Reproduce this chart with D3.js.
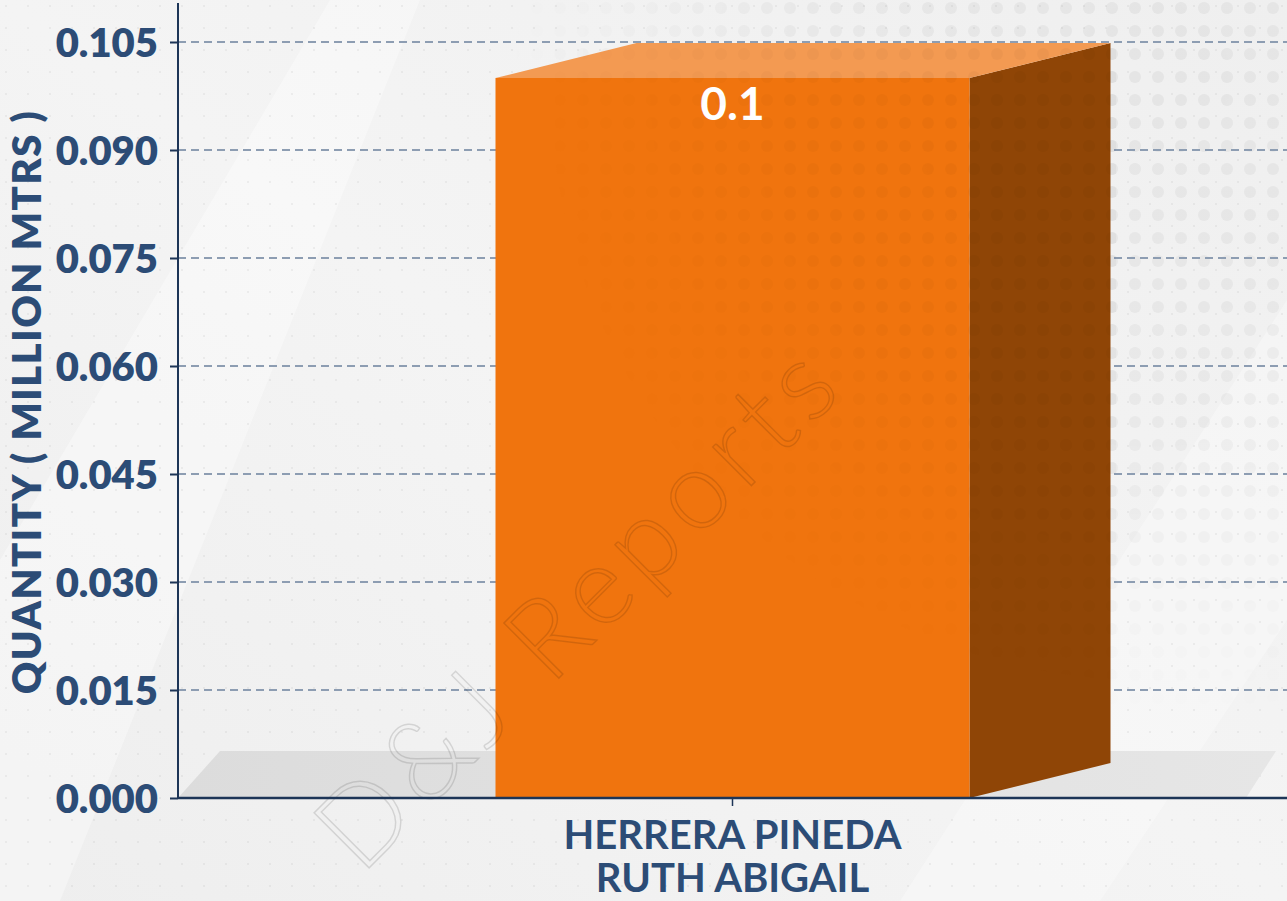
<!DOCTYPE html>
<html lang="es">
  <head>
    <meta charset="UTF-8">
    <title>Quantity chart</title>
    <style>
      html,body{
        margin: 0;
        padding: 0;
        background-color: #f2f2f2;
        overflow: hidden;
      }
      text{ font-family: Lato, "Open Sans", sans-serif; }
    </style>
  </head>
  <body>
    <div id="chart"></div>
    <script src="https://d3js.org/d3.v7.min.js"></script>
    <script>
      // datos
      var categorias = [["HERRERA PINEDA", "RUTH ABIGAIL"]];
      var valores = [0.1];
      var etiquetas = ["0.1"];
      var ticksY = [0, 0.015, 0.03, 0.045, 0.06, 0.075, 0.09, 0.105];

      var ancho = 1287, alto = 901;
      var m = { left: 178, right: 0, top: 42, bottom: 103 };
      var base = alto - m.bottom; // 798
      var azul = "#2c4c76";

      var svg = d3.select("#chart").append("svg")
        .attr("width", ancho).attr("height", alto);

      var defs = svg.append("defs");
      var bg = defs.append("linearGradient").attr("id", "bg")
        .attr("x1", 0).attr("y1", 1).attr("x2", 1).attr("y2", 0);
      bg.append("stop").attr("offset", 0).attr("stop-color", "#eeeeee");
      bg.append("stop").attr("offset", 0.5).attr("stop-color", "#f4f4f4");
      bg.append("stop").attr("offset", 1).attr("stop-color", "#efefef");

      var pat = defs.append("pattern").attr("id", "dots")
        .attr("width", 23).attr("height", 23).attr("patternUnits", "userSpaceOnUse");
      pat.append("circle").attr("cx", 8).attr("cy", 8).attr("r", 6).attr("fill", "rgba(0,0,0,0.045)");
      var pat2 = defs.append("pattern").attr("id", "dotsSm")
        .attr("width", 22).attr("height", 22).attr("patternUnits", "userSpaceOnUse");
      pat2.append("circle").attr("cx", 6).attr("cy", 6).attr("r", 1).attr("fill", "rgba(0,0,0,0.06)");

      var fade = defs.append("radialGradient").attr("id", "fade")
        .attr("gradientUnits", "userSpaceOnUse")
        .attr("cx", 1150).attr("cy", 80).attr("r", 650);
      fade.append("stop").attr("offset", 0).attr("stop-color", "#fff").attr("stop-opacity", 1);
      fade.append("stop").attr("offset", 0.55).attr("stop-color", "#fff").attr("stop-opacity", 0.8);
      fade.append("stop").attr("offset", 1).attr("stop-color", "#fff").attr("stop-opacity", 0);
      var mask = defs.append("mask").attr("id", "dotMask");
      mask.append("rect").attr("x", 0).attr("y", 0).attr("width", ancho).attr("height", 750).attr("fill", "url(#fade)");

      var floorG = defs.append("linearGradient").attr("id", "floorG")
        .attr("x1", 0).attr("y1", 0).attr("x2", 1).attr("y2", 0);
      floorG.append("stop").attr("offset", 0).attr("stop-color", "#dcdcdc");
      floorG.append("stop").attr("offset", 1).attr("stop-color", "#e6e6e6");

      // fondo
      svg.append("rect").attr("width", ancho).attr("height", alto).attr("fill", "url(#bg)");
      svg.append("path").attr("d", "M0,560 L330,0 L420,0 L60,901 L0,901Z").attr("fill", "rgba(255,255,255,0.35)");
      svg.append("path").attr("d", "M1287,300 L900,901 L1100,901 L1287,620Z").attr("fill", "rgba(255,255,255,0.3)");
      svg.append("rect").attr("width", ancho).attr("height", alto).attr("fill", "url(#dotsSm)");
      svg.append("rect").attr("x", 0).attr("width", ancho).attr("height", 750)
        .attr("fill", "url(#dots)").attr("mask", "url(#dotMask)");

      var x = d3.scaleBand().domain(categorias.map(function(d){ return d.join(" "); }))
        .range([m.left, ancho - m.right]).paddingInner(0.2).paddingOuter(0.28);
      var y = d3.scaleLinear().domain([0, 0.105]).range([base, m.top]);

      // piso
      svg.append("path")
        .attr("d", "M178,798 L220,751 L1276,751 L1246,798Z")
        .attr("fill", "url(#floorG)");

      // grid
      svg.append("g").selectAll("line").data(ticksY.slice(1)).join("line")
        .attr("x1", m.left).attr("x2", ancho)
        .attr("y1", function(d){ return y(d); }).attr("y2", function(d){ return y(d); })
        .attr("stroke", "#8d9db2").attr("stroke-width", 2)
        .attr("stroke-dasharray", "8,5");

      // barras 3D
      var dx = 141, dy = 35;
      var barW = 474;
      var bars = svg.append("g").selectAll("g").data(valores).join("g");
      bars.each(function(v, i){
        var g = d3.select(this);
        var cx = x(categorias[i].join(" ")) + x.bandwidth() / 2;
        var x0 = cx - barW / 2, x1 = cx + barW / 2, yt = y(v);
        g.append("path")
          .attr("d", "M" + x1 + "," + base + " L" + x1 + "," + yt + " L" + (x1 + dx) + "," + (yt - dy) +
            " L" + (x1 + dx) + "," + (base - dy) + "Z")
          .attr("fill", "#8f4506");
        g.append("path")
          .attr("d", "M" + x0 + "," + yt + " L" + (x0 + dx) + "," + (yt - dy) + " L" + (x1 + dx) + "," + (yt - dy) +
            " L" + x1 + "," + yt + "Z")
          .attr("fill", "#f39a52");
        g.append("rect").attr("x", x0).attr("y", yt).attr("width", barW).attr("height", base - yt)
          .attr("fill", "#f0740e");
        g.append("text").attr("x", cx).attr("y", yt + 42)
          .attr("text-anchor", "middle").attr("fill", "#fff")
          .attr("font-size", 46).attr("font-weight", 700)
          .text(etiquetas[i]);
      });
      svg.append("rect").attr("x", 496).attr("y", 40).attr("width", 620).attr("height", 760)
        .attr("fill", "url(#dots)").attr("mask", "url(#dotMask)").attr("opacity", 0.7);

      // marca de agua
      svg.append("text")
        .attr("transform", "translate(605,632) rotate(-45)")
        .attr("text-anchor", "middle")
        .attr("font-size", 110).attr("font-weight", 300)
        .attr("fill", "none").attr("stroke", "rgba(0,0,0,0.12)").attr("stroke-width", 1.5)
        .attr("letter-spacing", 8)
        .text("D&J Reports");

      // eje Y
      var ejeY = svg.append("g").attr("transform", "translate(" + m.left + ",0)")
        .call(d3.axisLeft(y).tickValues(ticksY).tickFormat(d3.format(".3f")).tickSize(8).tickPadding(12));
      ejeY.select(".domain").remove();
      ejeY.selectAll(".tick line").attr("stroke", "#1d3557").attr("stroke-width", 2);
      ejeY.selectAll(".tick text").attr("fill", azul).attr("font-size", 40).attr("font-weight", 800)
        .attr("font-family", "Lato, sans-serif").attr("dy", "0.36em");
      svg.append("line").attr("x1", m.left).attr("x2", m.left).attr("y1", 3).attr("y2", base)
        .attr("stroke", "#1d3557").attr("stroke-width", 2);

      // eje X
      var ejeX = svg.append("g").attr("transform", "translate(0," + base + ")")
        .call(d3.axisBottom(x).tickSize(8).tickFormat(""));
      ejeX.select(".domain").remove();
      ejeX.selectAll(".tick line").attr("stroke", "#1d3557").attr("stroke-width", 1.5);
      svg.append("line").attr("x1", m.left).attr("x2", ancho).attr("y1", base).attr("y2", base)
        .attr("stroke", "#1d3557").attr("stroke-width", 2.5);

      categorias.forEach(function(c){
        var cx = x(c.join(" ")) + x.bandwidth() / 2;
        svg.append("text").attr("x", cx).attr("y", 849).attr("text-anchor", "middle")
          .attr("fill", azul).attr("font-size", 40).attr("font-weight", 700).text(c[0]);
        svg.append("text").attr("x", cx).attr("y", 892).attr("text-anchor", "middle")
          .attr("fill", azul).attr("font-size", 40).attr("font-weight", 700).text(c[1]);
      });

      svg.append("text")
        .attr("transform", "translate(41,402) rotate(-90)")
        .attr("text-anchor", "middle")
        .attr("fill", azul).attr("font-size", 40).attr("font-weight", 800)
        .attr("letter-spacing", 1.5)
        .text("QUANTITY ( MILLION MTRS )");
    </script>
  </body>
</html>
